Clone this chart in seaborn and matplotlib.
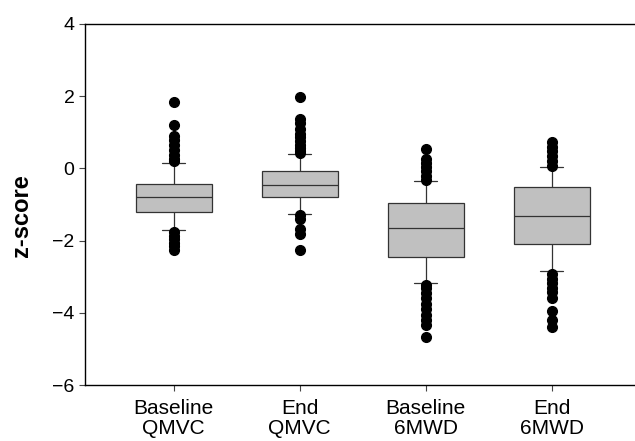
import numpy as np
import pandas as pd
import matplotlib
matplotlib.use("Agg")
import matplotlib.pyplot as plt
import seaborn as sns

# ---- data ----
groups = ["Baseline\nQMVC", "End\nQMVC", "Baseline\n6MWD", "End\n6MWD"]
q1 = [-1.21, -0.79, -2.46, -2.09]
median = [-0.78, -0.47, -1.64, -1.32]
q3 = [-0.42, -0.08, -0.96, -0.52]
whisker_low = [-1.72, -1.26, -3.18, -2.83]   # 10th percentile
whisker_high = [0.15, 0.39, -0.36, 0.04]     # 90th percentile
lower_outliers = [
    [-1.76, -1.86, -1.96, -2.06, -2.16, -2.26],
    [-1.28, -1.40, -1.67, -1.81, -2.27],
    [-3.22, -3.32, -3.45, -3.60, -3.75, -3.90, -4.05, -4.20, -4.35, -4.67],
    [-2.92, -3.05, -3.18, -3.30, -3.42, -3.60, -3.95, -4.20, -4.38],
]
upper_outliers = [
    [0.20, 0.26, 0.36, 0.50, 0.64, 0.78, 0.91, 1.21, 1.84],
    [0.42, 0.48, 0.56, 0.66, 0.76, 0.86, 0.96, 1.10, 1.25, 1.38, 1.98],
    [-0.32, -0.20, -0.08, 0.05, 0.15, 0.27, 0.55],
    [0.07, 0.20, 0.35, 0.47, 0.60, 0.73],
]

# Rebuild a sample per group whose 10/25/50/75/90th percentiles equal the
# summary values read above (index positions 100/250/500/750/900 of 1001).
rows = []
for g, lo_o, wl, a, m, b, wh, hi_o in zip(groups, lower_outliers, whisker_low,
                                          q1, median, q3, whisker_high, upper_outliers):
    vals = sorted(lo_o)
    vals += [wl] * (101 - len(vals))
    vals += [a] * 150
    vals += [m] * 250
    vals += [b] * 250
    vals += [wh] * (250 - len(hi_o))
    vals += sorted(hi_o)
    rows += [(g, v) for v in vals]
df = pd.DataFrame(rows, columns=["group", "value"])

sns.set_theme(style="ticks")
plt.rcParams["font.family"] = ["Liberation Sans", "DejaVu Sans"]
plt.rcParams["text.color"] = "black"
plt.rcParams["xtick.labelcolor"] = "black"
plt.rcParams["ytick.labelcolor"] = "black"
plt.rcParams["axes.labelcolor"] = "black"

fig = plt.figure(figsize=(6.35, 4.41), dpi=100)
ax = fig.add_axes([85 / 635, (441 - 385) / 441, (635 - 85) / 635, (385 - 24) / 441])

sns.boxplot(
    data=df, x="group", y="value", order=groups, ax=ax,
    color="#c0c0c0", saturation=1, linecolor="#333333", linewidth=0.9,
    width=0.6, whis=(10, 90), fliersize=7,
    flierprops=dict(marker="o", markerfacecolor="black", markeredgecolor="black"),
    capwidths=0.18,
)

ax.set_xlim(-0.704, 3.66)
ax.set_ylim(-6, 4)
ax.set_yticks([-6, -4, -2, 0, 2, 4])
ax.set_xlabel("")
ax.set_ylabel("z-score", fontsize=17, fontweight="bold", labelpad=12)
ax.yaxis.set_label_coords(-0.095, 0.47)
ax.tick_params(axis="y", labelsize=14, direction="out", length=4,
               width=0.8, color="#444444", labelcolor="black")
ax.tick_params(axis="x", labelsize=15, direction="out", length=4,
               width=0.8, color="#444444", labelcolor="black", pad=6)
for lab in ax.get_xticklabels():
    lab.set_linespacing(1.1)
for s in ["left", "top", "bottom"]:
    ax.spines[s].set_visible(True)
    ax.spines[s].set_linewidth(1.0)
    ax.spines[s].set_color("black")
ax.spines["right"].set_visible(False)

fig.savefig("out.png", dpi=100)
